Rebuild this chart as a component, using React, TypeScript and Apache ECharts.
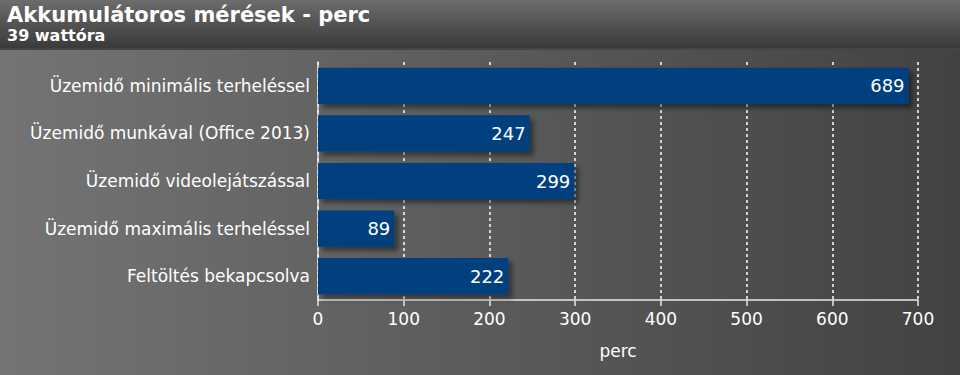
import React, { useEffect, useRef } from "react";
import * as echarts from "echarts";

const categories = [
  "Üzemidő minimális terheléssel",
  "Üzemidő munkával (Office 2013)",
  "Üzemidő videolejátszással",
  "Üzemidő maximális terheléssel",
  "Feltöltés bekapcsolva",
];
const values = [689, 247, 299, 89, 222];
const titleText = "Akkumulátoros mérések - perc";
const subtitleText = "39 wattóra";
const axisName = "perc";

const FONT = "Tahoma, 'DejaVu Sans', Verdana, sans-serif";

export default function App() {
  const ref = useRef<HTMLDivElement>(null);
  useEffect(() => {
    document.body.style.margin = "0";
    const chart = echarts.init(ref.current!, null, { renderer: "svg" });
    chart.setOption({
      animation: false,
      backgroundColor: new echarts.graphic.LinearGradient(0, 0, 1, 0, [
        { offset: 0, color: "#747474" },
        { offset: 1, color: "#424242" },
      ]),
      graphic: [
        {
          type: "rect",
          shape: { x: 0, y: 0, width: 960, height: 50 },
          style: {
            fill: new echarts.graphic.LinearGradient(0, 0, 0, 1, [
              { offset: 0, color: "#6c6c6c" },
              { offset: 1, color: "#383838" },
            ]),
          },
          z: 0,
        },
        {
          type: "rect",
          shape: { x: 0, y: 48, width: 960, height: 2 },
          style: { fill: "#454545" },
          z: 1,
        },
        {
          type: "text",
          left: 7,
          top: 4,
          style: {
            text: titleText,
            fill: "#ffffff",
            font: `bold 21px ${FONT}`,
          },
          z: 2,
        },
        {
          type: "text",
          left: 7,
          top: 27,
          style: {
            text: subtitleText,
            fill: "#ffffff",
            font: `bold 16px ${FONT}`,
          },
          z: 2,
        },
      ],
      grid: { left: 318, right: 42, top: 62, bottom: 75, containLabel: false },
      xAxis: {
        type: "value",
        min: 0,
        max: 700,
        interval: 100,
        name: axisName,
        nameLocation: "middle",
        nameGap: 42,
        nameTextStyle: { color: "#ffffff", fontSize: 17, fontFamily: FONT },
        axisLine: { show: true, lineStyle: { color: "#e8e8e8", width: 1.5 } },
        axisTick: { show: true, length: 6, lineStyle: { color: "#e8e8e8", width: 1.5 } },
        axisLabel: { color: "#ffffff", fontSize: 17, fontFamily: FONT, margin: 10 },
        splitLine: {
          show: true,
          lineStyle: { color: "#ffffff", type: [3, 3], width: 1.5 },
        },
      },
      yAxis: {
        type: "category",
        data: categories,
        inverse: true,
        axisLine: { show: true, lineStyle: { color: "#e8e8e8", width: 1.5 } },
        axisTick: { show: false },
        axisLabel: { color: "#ffffff", fontSize: 17, fontFamily: FONT, margin: 8 },
      },
      series: [
        {
          type: "bar",
          data: values,
          barCategoryGap: "24%",
          itemStyle: {
            color: "#003f7f",
            shadowColor: "rgba(0,0,0,0.45)",
            shadowBlur: 5,
            shadowOffsetX: 4,
            shadowOffsetY: 4,
          },
          label: {
            show: true,
            position: "insideRight",
            distance: 4,
            color: "#ffffff",
            fontSize: 18,
            fontFamily: FONT,
          },
        },
      ],
    });
    return () => chart.dispose();
  }, []);
  return (
    <div
      ref={ref}
      style={{ position: "absolute", left: 0, top: 0, width: 960, height: 375 }}
    />
  );
}
